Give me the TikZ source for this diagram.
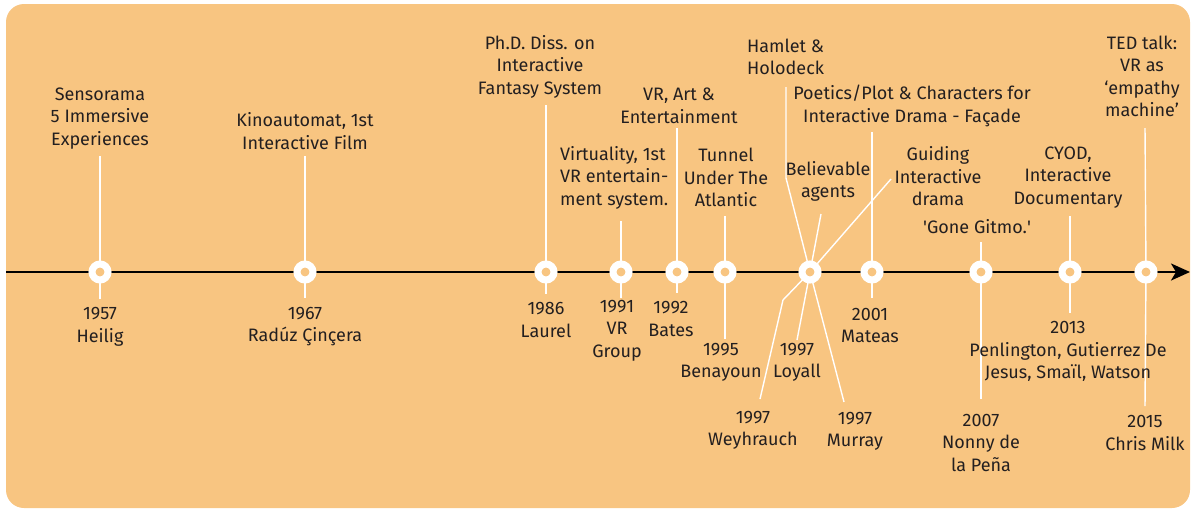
\documentclass[tikz,border=0pt]{standalone}
\usepackage{fontspec}
\setmainfont{Fira Sans}
\usetikzlibrary{arrows.meta}
\definecolor{panel}{HTML}{F8C581}
\definecolor{ink}{HTML}{231F20}
\pgfdeclarelayer{back}
\pgfdeclarelayer{mid}
\pgfsetlayers{back,mid,main}
\tikzset{
  lbl/.style={font=\fontsize{18}{22.5}\selectfont, align=center, inner sep=0pt, text=ink},
  lbll/.style={lbl, align=left, anchor=west},
  ring/.style={circle, draw=white, fill=panel, line width=7pt, minimum size=16pt, inner sep=0pt, outer sep=0pt},
  conn/.style={draw=white, line width=1.4pt},
  axis/.style={draw=black, line width=2.6pt, -{Stealth[length=19pt,width=17pt,inset=5pt]}}
}
\begin{document}
\begin{tikzpicture}[x=1pt,y=-1pt]
\useasboundingbox (0,0) rectangle (1196,512);
\begin{pgfonlayer}{back}
  \fill[panel, rounded corners=18pt] (6,4) rectangle (1190,508);
\end{pgfonlayer}

% markers on the time axis
\node[ring] (m57) at (100,272) {};
\node[ring] (m67) at (305,272) {};
\node[ring] (m86) at (546,272) {};
\node[ring] (m91) at (621,272) {};
\node[ring] (m92) at (677,272) {};
\node[ring] (m95) at (725,272) {};
\node[ring] (m97) at (810,272) {};
\node[ring] (m01) at (872,272) {};
\node[ring] (m07) at (981,272) {};
\node[ring] (m13) at (1070,272) {};
\node[ring] (m15) at (1146,272) {};

% labels above the axis
\node[lbl] (e57) at (100,118.5) {Sensorama\\5 Immersive\\Experiences};
\node[lbl] (e67) at (305,131) {Kinoautomat, 1st\\Interactive Film};
\node[lbl] (e86) at (540,66.5) {Ph.D. Diss. on\\Interactive\\Fantasy System};
\node[lbll] (e91) at (560,177.5) {Virtuality, 1st\\VR entertain-\\ment system.};
\node[lbl] (e92) at (679,106) {VR, Art \&\\Entertainment};
\node[lbl] (e95) at (726,177.5) {Tunnel\\Under The\\Atlantic};
\node[lbll] (e97h) at (747,57) {Hamlet \&\\Holodeck};
\node[lbl] (e97b) at (828,181.5) {Believable\\agents};
\node[lbl] (e01) at (912,106) {Poetics/Plot \& Characters for\\Interactive Drama - Façade};
\node[lbl] (e97g) at (938,176.5) {Guiding\\Interactive\\drama};
\node[lbl] (e07) at (977,227) {\textquotesingle Gone Gitmo.\textquotesingle};
\node[lbl] (e13) at (1068,177.5) {CYOD,\\Interactive\\Documentary};
\node[lbl] (e15) at (1142,76.5) {TED talk:\\VR as\\‘empathy\\machine’};

% labels below the axis
\node[lbl] (y57) at (100,327) {1957\\Heilig};
\node[lbl] (y67) at (305,326.5) {1967\\Radúz Çinçera};
\node[lbl] (y86) at (546,320) {1986\\Laurel};
\node[lbl] (y91) at (617,330.5) {1991\\VR\\Group};
\node[lbl] (y92) at (671,319) {1992\\Bates};
\node[lbl] (y95) at (721,362.5) {1995\\Benayoun};
\node[lbl] (y97w) at (753,430.5) {1997\\Weyhrauch};
\node[lbl] (y97l) at (797,362.5) {1997\\Loyall};
\node[lbl] (y97m) at (855,431.5) {1997\\Murray};
\node[lbl] (y01) at (870,325.5) {2001\\Mateas};
\node[lbl] (y07) at (981,442.5) {2007\\Nonny de\\la Peña};
\node[lbl] (y13) at (1068,351.5) {2013\\Penlington, Gutierrez De\\Jesus, Smaïl, Watson};
\node[lbl] (y15) at (1145,433) {2015\\Chris Milk};

% free ends of the leader lines
\coordinate (t57) at (100,156);  \coordinate (b57) at (100,299);
\coordinate (t67) at (305,156);  \coordinate (b67) at (305,298);
\coordinate (t86) at (546,105);  \coordinate (b86) at (546,294);
\coordinate (t91) at (621,221);  \coordinate (b91) at (621,298);
\coordinate (t92) at (677,128);  \coordinate (b92) at (677,293);
\coordinate (t95) at (725,216);  \coordinate (b95) at (725,339);
\coordinate (t97h) at (786,87);  \coordinate (k97h) at (786,178);
\coordinate (t97b) at (821,214);
\coordinate (t97g) at (891,179);
\coordinate (k97w) at (783,300); \coordinate (b97w) at (760,399);
\coordinate (b97l) at (797,340);
\coordinate (b97m) at (844,402);
\coordinate (t01) at (872,132);  \coordinate (b01) at (872,298);
\coordinate (t07) at (981,242);  \coordinate (b07) at (981,399);
\coordinate (t13) at (1070,216); \coordinate (b13) at (1070,313);
\coordinate (t15) at (1145,128); \coordinate (b15) at (1145,406);
\coordinate (axs) at (6,272);    \coordinate (axe) at (1190,272);

\begin{pgfonlayer}{mid}
  \draw[axis] (axs) -- (axe);
  \foreach \k in {57,67,86,91,92,95,01,07,13,15}{
    \draw[conn] (t\k) -- (m\k);
    \draw[conn] (m\k) -- (b\k);
  }
  \draw[conn] (t97h) -- (k97h) -- (m97);
  \draw[conn] (t97b) -- (m97);
  \draw[conn] (t97g) -- (m97);
  \draw[conn] (m97) -- (k97w) -- (b97w);
  \draw[conn] (m97) -- (b97l);
  \draw[conn] (m97) -- (b97m);
\end{pgfonlayer}
\end{tikzpicture}
\end{document}
